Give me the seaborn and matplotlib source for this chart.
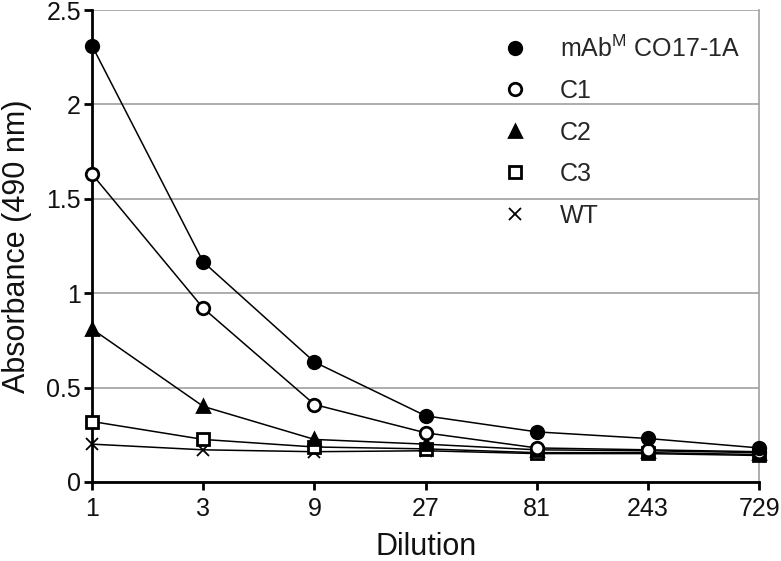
import matplotlib
matplotlib.use("Agg")
import matplotlib.pyplot as plt
import pandas as pd
import seaborn as sns
from matplotlib.lines import Line2D
from matplotlib.ticker import FixedLocator, NullLocator

sns.set_theme(style="white")
plt.rcParams["font.family"] = ["Liberation Sans", "DejaVu Sans"]

dilution = [1, 3, 9, 27, 81, 243, 729]
mab = [2.31, 1.165, 0.635, 0.35, 0.265, 0.23, 0.18]
c1 = [1.63, 0.92, 0.41, 0.26, 0.18, 0.17, 0.16]
c2 = [0.81, 0.40, 0.225, 0.20, 0.17, 0.165, 0.155]
c3 = [0.32, 0.225, 0.185, 0.175, 0.155, 0.155, 0.145]
wt = [0.20, 0.17, 0.16, 0.165, 0.15, 0.15, 0.14]

mab_label = "mAb$^{\\mathregular{M}}$ CO17-1A"
series = {mab_label: mab, "C1": c1, "C2": c2, "C3": c3, "WT": wt}
styles = {
    mab_label: dict(marker="o", markerfacecolor="black", markersize=9, markeredgewidth=2),
    "C1": dict(marker="o", markerfacecolor="white", markersize=9, markeredgewidth=2),
    "C2": dict(marker="^", markerfacecolor="black", markersize=9, markeredgewidth=2),
    "C3": dict(marker="s", markerfacecolor="white", markersize=9, markeredgewidth=2),
    "WT": dict(marker="x", markerfacecolor="black", markersize=8, markeredgewidth=1.3),
}

df = pd.concat(
    [pd.DataFrame({"Dilution": dilution, "Absorbance": vals, "Sample": name}) for name, vals in series.items()],
    ignore_index=True,
)

fig = plt.figure(figsize=(7.81, 5.61), dpi=100)
ax = fig.add_axes([0.118, 0.141, 0.854, 0.841])

for name in reversed(list(series)):
    sub = df[df["Sample"] == name]
    sns.lineplot(data=sub, x="Dilution", y="Absorbance", ax=ax, color="black", linewidth=1.1,
                 markeredgecolor="black", clip_on=False, zorder=3, **styles[name])

handles = [
    Line2D([], [], linestyle="none", color="black", markeredgecolor="black", label=name, **styles[name])
    for name in series
]

ax.set_xscale("log", base=3)
ax.set_xlim(1, 729)
ax.set_ylim(0, 2.5)
ax.xaxis.set_major_locator(FixedLocator(dilution))
ax.xaxis.set_minor_locator(NullLocator())
ax.set_xticklabels([str(d) for d in dilution])
ax.set_yticks([0, 0.5, 1, 1.5, 2, 2.5])
ax.set_yticklabels(["0", "0.5", "1", "1.5", "2", "2.5"])
ax.yaxis.grid(True, color="#a0a0a0", linewidth=1.2)
ax.xaxis.grid(False)
ax.set_axisbelow(True)

for side in ["left", "bottom"]:
    ax.spines[side].set_color("black")
    ax.spines[side].set_linewidth(2)
ax.spines["right"].set_color("#a0a0a0")
ax.spines["right"].set_linewidth(1.2)
ax.spines["top"].set_visible(False)

ax.tick_params(axis="both", which="major", direction="out", length=6, width=2, color="black",
               labelsize=18, labelcolor="#111111", bottom=True, left=True)
ax.tick_params(axis="x", pad=5)
ax.tick_params(axis="y", pad=2)
ax.set_xlabel("Dilution", fontsize=22, color="#111111", labelpad=8)
ax.set_ylabel("Absorbance (490 nm)", fontsize=22, color="#111111", labelpad=10)

ax.legend(handles=handles, loc="upper left", bbox_to_anchor=(0.63, 0.955), bbox_transform=fig.transFigure,
          frameon=False, fontsize=18, handlelength=1.0, handletextpad=1.3, labelspacing=0.7,
          borderpad=0.4, borderaxespad=0)

fig.savefig("out.png", dpi=100)
